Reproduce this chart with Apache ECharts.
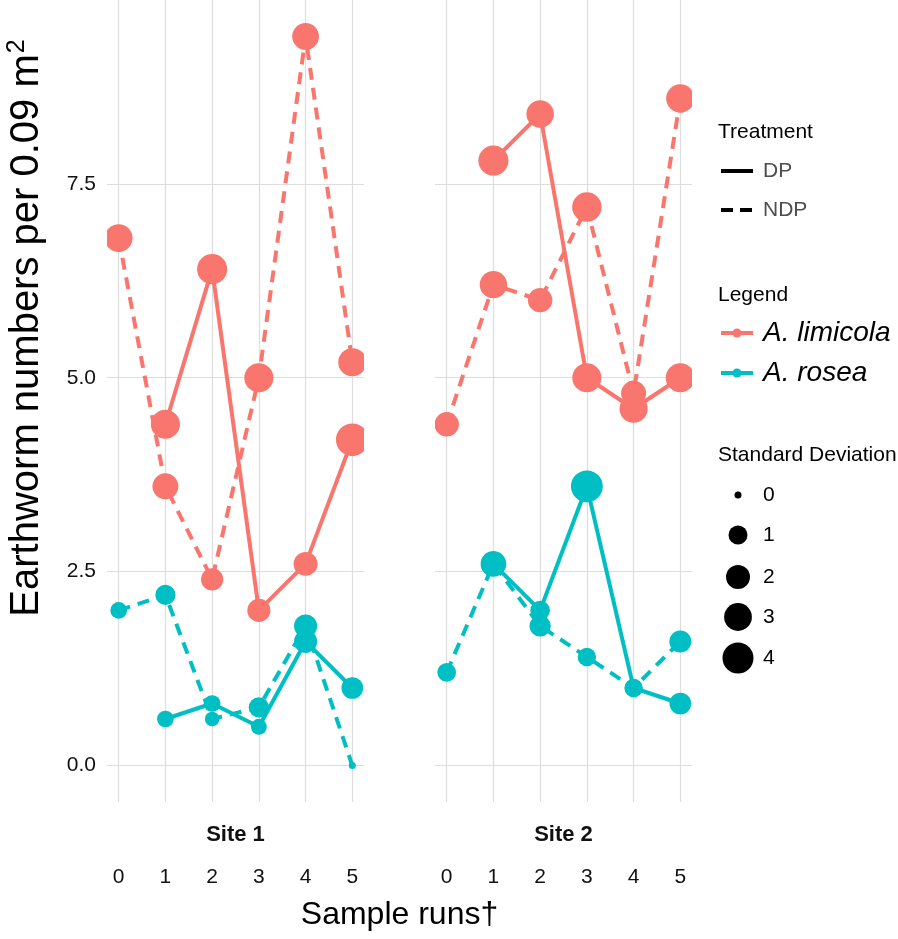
<!DOCTYPE html>
<html>
<head>
<meta charset="utf-8">
<script src="https://cdn.jsdelivr.net/npm/echarts@6/dist/echarts.min.js"></script>
<style>html,body{margin:0;padding:0;background:#fff}#c{width:898px;height:939px}</style>
</head>
<body>
<div id="c"></div>
<script>
// ---- data ----
const runs = [0, 1, 2, 3, 4, 5];
const yTicks = [0, 2.5, 5, 7.5];
const yTickLabels = ['0.0', '2.5', '5.0', '7.5'];
const sites = ['Site 1', 'Site 2'];
const species = ['A. limicola', 'A. rosea'];
const treatments = ['DP', 'NDP'];
const sdLegend = [0, 1, 2, 3, 4];

// Site 1
const s1_limicola_DP      = [null, 4.4, 6.4, 2.0, 2.6, 4.2];
const s1_limicola_DP_sd   = [null, 3.4, 3.7, 1.8, 2.0, 4.6];
const s1_limicola_NDP     = [6.8, 3.6, 2.4, 5.0, 9.4, 5.2];
const s1_limicola_NDP_sd  = [3.0, 2.5, 1.6, 3.4, 2.7, 3.1];
const s1_rosea_DP         = [null, 0.6, 0.8, 0.5, 1.6, 1.0];
const s1_rosea_DP_sd      = [null, 0.65, 0.65, 0.55, 1.8, 1.5];
const s1_rosea_NDP        = [2.0, 2.2, 0.6, 0.75, 1.8, 0.0];
const s1_rosea_NDP_sd     = [0.65, 1.2, 0.4, 1.2, 1.8, 0.0];
// Site 2
const s2_limicola_DP      = [null, 7.8, 8.4, 5.0, 4.6, 5.0];
const s2_limicola_DP_sd   = [null, 3.7, 2.9, 3.4, 3.1, 3.4];
const s2_limicola_NDP     = [4.4, 6.2, 6.0, 7.2, 4.8, 8.6];
const s2_limicola_NDP_sd  = [2.1, 2.9, 2.1, 3.5, 2.25, 3.15];
const s2_rosea_DP         = [null, 2.6, 2.0, 3.6, 1.0, 0.8];
const s2_rosea_DP_sd      = [null, 2.4, 1.1, 4.3, 0.9, 1.5];
const s2_rosea_NDP        = [1.2, 2.6, 1.8, 1.4, 1.0, 1.6];
const s2_rosea_NDP_sd     = [0.95, 2.0, 1.4, 0.9, 0.8, 1.55];

// ---- styles ----
const FONT = 'Liberation Sans, Arial, sans-serif';
const COLORS = {'A. limicola': '#F8766D', 'A. rosea': '#00BFC4'};
const DASH = [12, 8];
const sizeOf = sd => 7 + 12 * Math.sqrt(sd);

const groups = [
  {site: 0, sp: 'A. limicola', tr: 'DP',  v: s1_limicola_DP,  sd: s1_limicola_DP_sd},
  {site: 0, sp: 'A. limicola', tr: 'NDP', v: s1_limicola_NDP, sd: s1_limicola_NDP_sd},
  {site: 0, sp: 'A. rosea',    tr: 'DP',  v: s1_rosea_DP,     sd: s1_rosea_DP_sd},
  {site: 0, sp: 'A. rosea',    tr: 'NDP', v: s1_rosea_NDP,    sd: s1_rosea_NDP_sd},
  {site: 1, sp: 'A. limicola', tr: 'DP',  v: s2_limicola_DP,  sd: s2_limicola_DP_sd},
  {site: 1, sp: 'A. limicola', tr: 'NDP', v: s2_limicola_NDP, sd: s2_limicola_NDP_sd},
  {site: 1, sp: 'A. rosea',    tr: 'DP',  v: s2_rosea_DP,     sd: s2_rosea_DP_sd},
  {site: 1, sp: 'A. rosea',    tr: 'NDP', v: s2_rosea_NDP,    sd: s2_rosea_NDP_sd}
];
const pts = g => runs.map((r, i) => g.v[i] == null ? null : [r, g.v[i], g.sd[i]]).filter(Boolean);

const series = [];
groups.forEach(g => {
  series.push({
    type: 'line', xAxisIndex: g.site, yAxisIndex: g.site, data: pts(g),
    symbol: 'none', z: 2, silent: true, animation: false, clip: true,
    lineStyle: {color: COLORS[g.sp], width: 4, type: g.tr === 'DP' ? 'solid' : DASH}
  });
});
groups.forEach(g => {
  const color = COLORS[g.sp];
  series.push({
    type: 'custom', xAxisIndex: g.site, yAxisIndex: g.site, data: pts(g),
    encode: {x: 0, y: 1}, z: 3, clip: true, animation: false,
    renderItem: (params, api) => {
      const c = api.coord([api.value(0), api.value(1)]);
      return {type: 'circle', shape: {cx: c[0], cy: c[1], r: sizeOf(api.value(2)) / 2},
        style: {fill: color}};
    }
  });
});

const GRID_TOP = 0, GRID_H = 802, GRID_W = 257;
const gridLefts = [107, 435];
const gridLine = {show: true, lineStyle: {color: '#DDDDDD', width: 1.2}};

const xAxes = gridLefts.map((l, i) => ({
  type: 'value', gridIndex: i, min: -0.25, max: 5.25,
  axisLine: {show: false},
  axisTick: {show: false, customValues: runs},
  splitLine: gridLine,
  axisLabel: {customValues: runs, margin: 75, verticalAlign: 'middle',
    fontSize: 21, color: '#111', fontFamily: FONT, formatter: v => String(v)}
}));
const yAxes = gridLefts.map((l, i) => ({
  type: 'value', gridIndex: i, min: -0.47, max: 9.87,
  axisLine: {show: false},
  axisTick: {show: false, customValues: yTicks},
  splitLine: gridLine,
  axisLabel: {show: i === 0, customValues: yTicks, margin: 11, fontSize: 21, color: '#111',
    fontFamily: FONT, formatter: v => yTickLabels[yTicks.indexOf(v)] ?? ''}
}));

const graphics = [];
// strip labels
sites.forEach((s, i) => graphics.push({type: 'text', x: gridLefts[i] + GRID_W / 2, y: 835,
  style: {text: s, font: 'bold 22px ' + FONT, fill: '#111', align: 'center', verticalAlign: 'middle'}}));
// axis titles
graphics.push({type: 'text', x: (107 + 692) / 2, y: 915,
  style: {text: 'Sample runs\u2020', font: '32px ' + FONT, fill: '#000', align: 'center', verticalAlign: 'middle'}});
graphics.push({type: 'text', x: 27, y: 328, rotation: Math.PI / 2,
  style: {text: 'Earthworm numbers per 0.09 m{sup|2}', font: '40px ' + FONT, fill: '#000',
    align: 'center', verticalAlign: 'middle',
    rich: {sup: {fontSize: 25, fontFamily: FONT, fill: '#000', padding: [0, 0, 20, 1]}}}});

// legend: Treatment
const LX = 721, LX2 = 753, TX = 763;
graphics.push({type: 'text', x: 718, y: 132, style: {text: 'Treatment', font: '21px ' + FONT, fill: '#000', verticalAlign: 'middle'}});
treatments.forEach((t, i) => {
  const y = 171 + i * 39;
  graphics.push({type: 'line', shape: {x1: LX, y1: y, x2: LX2, y2: y},
    style: {stroke: '#000', lineWidth: 4, lineDash: t === 'DP' ? null : [12, 7]}});
  graphics.push({type: 'text', x: TX, y: y, style: {text: t, font: '21px ' + FONT, fill: '#4D4D4D', verticalAlign: 'middle'}});
});
// legend: species
graphics.push({type: 'text', x: 718, y: 295, style: {text: 'Legend', font: '21px ' + FONT, fill: '#000', verticalAlign: 'middle'}});
species.forEach((s, i) => {
  const y = 333 + i * 40;
  graphics.push({type: 'line', shape: {x1: LX, y1: y, x2: LX2, y2: y}, style: {stroke: COLORS[s], lineWidth: 4}});
  graphics.push({type: 'circle', shape: {cx: 737, cy: y, r: 4.5}, style: {fill: COLORS[s]}});
  graphics.push({type: 'text', x: TX, y: y, style: {text: s, font: 'italic 28px ' + FONT, fill: '#000', verticalAlign: 'middle'}});
});
// legend: SD
graphics.push({type: 'text', x: 718, y: 455, style: {text: 'Standard Deviation', font: '21px ' + FONT, fill: '#000', verticalAlign: 'middle'}});
const sdY = [495, 535, 577, 617, 658];
sdLegend.forEach((v, i) => {
  graphics.push({type: 'circle', shape: {cx: 738, cy: sdY[i], r: sizeOf(v) / 2}, style: {fill: '#000'}});
  graphics.push({type: 'text', x: TX, y: sdY[i], style: {text: String(v), font: '21px ' + FONT, fill: '#000', verticalAlign: 'middle'}});
});

const chart = echarts.init(document.getElementById('c'), null, {renderer: 'canvas'});
chart.setOption({
  animation: false,
  backgroundColor: '#fff',
  grid: gridLefts.map(l => ({left: l, top: GRID_TOP, width: GRID_W, height: GRID_H, containLabel: false})),
  xAxis: xAxes,
  yAxis: yAxes,
  series: series,
  graphic: graphics
});
</script>
</body>
</html>
